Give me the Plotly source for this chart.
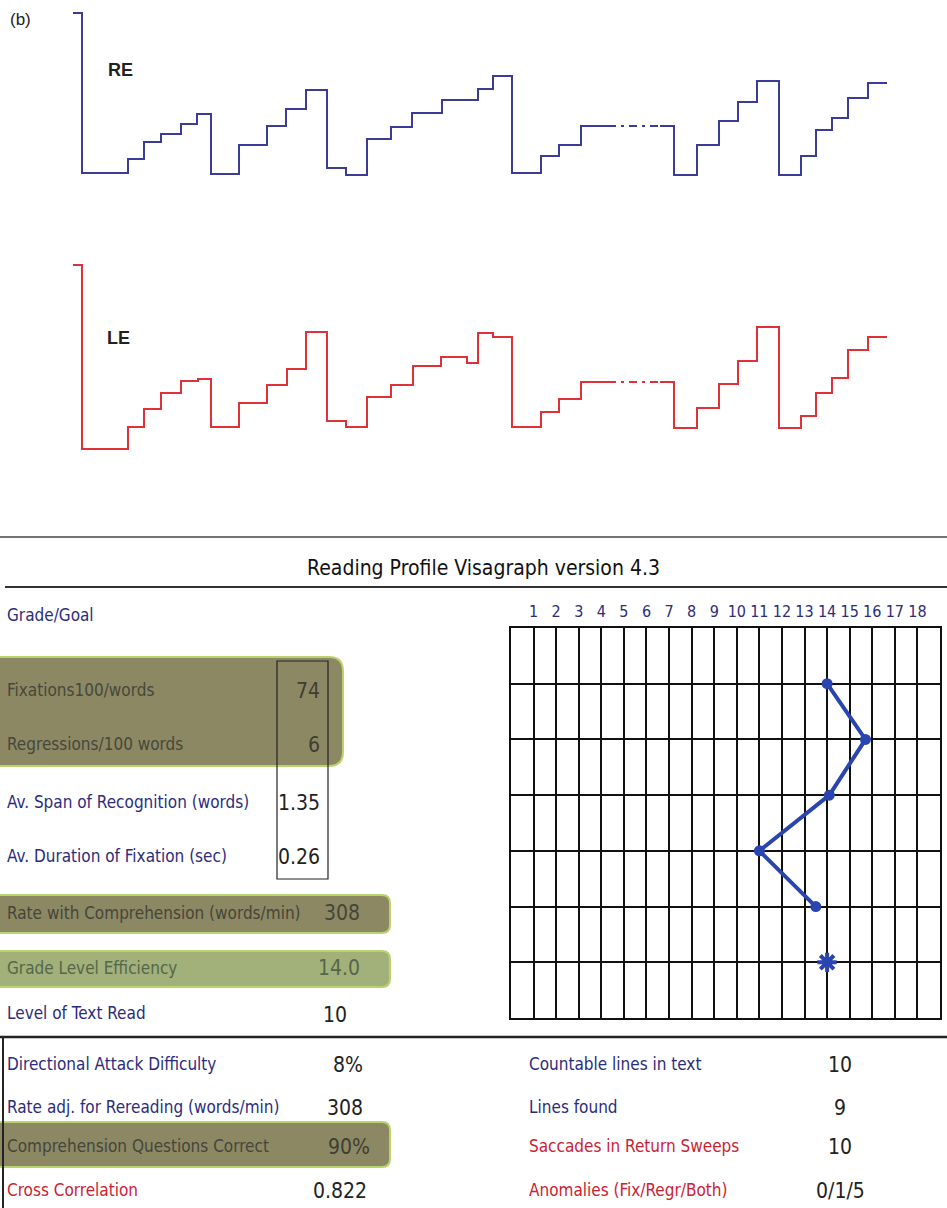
import plotly.graph_objects as go

W, H = 947, 1208

# ---------------- data: eye-movement traces (time units, horizontal position units) --------
RE_t   = [0, 9, 55, 71, 88, 108, 124, 138, 166, 194, 213, 233, 254, 273, 294, 318, 339, 369,
          405, 420, 439, 468, 486, 508, 601, 624, 646, 665, 684, 706, 728, 743, 759, 775, 795]
RE_pos = [162, 2, 16, 33, 41, 51, 61, 1, 30, 49, 66, 85, 7, 0, 36, 48, 62, 75,
          86, 99, 2, 19, 30, 49, 0, 30, 54, 73, 94, 0, 19, 45, 57, 77, 92]
LE_t   = [0, 9, 55, 71, 88, 108, 125, 138, 166, 194, 214, 233, 254, 273, 294, 318, 340, 368,
          394, 405, 420, 439, 468, 486, 508, 601, 624, 646, 665, 684, 706, 728, 743, 759, 775, 795]
LE_pos = [184, 0, 22, 40, 56, 68, 70, 22, 46, 64, 80, 117, 28, 22, 52, 64, 83, 92,
          86, 116, 112, 22, 37, 50, 67, 21, 41, 65, 88, 122, 21, 33, 56, 71, 99, 112]
T_END = 814
GAP_START, GAP_END = 535, 587   # lost-tracking (dashed) interval

# ---------------- data: reading grid -----------------
grid_cols = list(range(1, 19))
grid_col_labels = [str(c) for c in grid_cols]
line_no = [1, 2, 3, 4, 5]
fix_col = [14, 15.7, 14.1, 11, 13.5]
missing_line = [6]
missing_col = [14]

# ---------------- data: table -----------------
TITLE = "Reading Profile Visagraph version 4.3"
top_labels = ["Fixations100/words", "Regressions/100 words",
              "Av. Span of Recognition (words)", "Av. Duration of Fixation (sec)"]
top_values = ["74", "6", "1.35", "0.26"]
mid_labels = ["Rate with Comprehension (words/min)", "Grade Level Efficiency"]
mid_values = ["308", "14.0"]
level_label, level_value = "Level of Text Read", "10"
left_labels = ["Directional Attack Difficulty", "Rate adj. for Rereading (words/min)",
               "Comprehension Questions Correct", "Cross Correlation"]
left_values = ["8%", "308", "90%", "0.822"]
right_labels = ["Countable lines in text", "Lines found",
                "Saccades in Return Sweeps", "Anomalies (Fix/Regr/Both)"]
right_values = ["10", "9", "10", "0/1/5"]

# ---------------- helpers -----------------
def px(x):
    return x / W

def py(y):
    return 1 - y / H

def split_gap(ts, ys, t_end, g0, g1):
    xs, yv = [], []
    for i, (t, y) in enumerate(zip(ts, ys)):
        nxt = ts[i + 1] if i + 1 < len(ts) else t_end
        xs.append(t); yv.append(y)
        if t < g0 < nxt:
            xs += [g0, None, g1]; yv += [y, None, y]
    xs.append(t_end); yv.append(ys[-1])
    return xs, yv

def gap_level(ts, ys, g0):
    lvl = ys[0]
    for t, y in zip(ts, ys):
        if t <= g0:
            lvl = y
    return lvl

NAVY_LINE = "#3b3b98"
RED_LINE = "#e03038"
NARROW = "DejaVu Sans Condensed, Liberation Sans Narrow, Arial Narrow, sans-serif"
ARIAL = "Liberation Sans, Arial, sans-serif"
LBL_BLUE = "#2c2c7c"
LBL_RED = "#cc2233"
OLIVE = "#8c8864"
OLIVE_EDGE = "#b9d46e"
GREEN_BOX = "#a2b07a"
MARK = "#2a44b0"

LBL = 17     # label font size
VAL = 21     # value font size

fig = go.Figure()

for name, ts, ys, col, ya in [("RE", RE_t, RE_pos, NAVY_LINE, "y"), ("LE", LE_t, LE_pos, RED_LINE, "y2")]:
    xs, yv = split_gap(ts, ys, T_END, GAP_START, GAP_END)
    fig.add_trace(go.Scatter(x=xs, y=yv, mode="lines", line=dict(shape="hv", color=col, width=2),
                             connectgaps=False, xaxis="x", yaxis=ya, hoverinfo="skip", showlegend=False))
    lv = gap_level(ts, ys, GAP_START)
    fig.add_trace(go.Scatter(x=[GAP_START, GAP_END], y=[lv, lv], mode="lines",
                             line=dict(color=col, width=2, dash="8px,5px,3px,5px"),
                             xaxis="x", yaxis=ya, hoverinfo="skip", showlegend=False))

# reading grid trace
fig.add_trace(go.Scatter(x=fix_col, y=line_no, mode="lines+markers",
                         line=dict(color=MARK, width=4),
                         marker=dict(color=MARK, size=11),
                         xaxis="x3", yaxis="y3", cliponaxis=False, showlegend=False))
fig.add_trace(go.Scatter(x=missing_col, y=missing_line, mode="markers",
                         marker=dict(symbol="asterisk-open", size=16, color=MARK,
                                     line=dict(color=MARK, width=4)),
                         xaxis="x3", yaxis="y3", cliponaxis=False, showlegend=False))

shapes = []
def line(x0, y0, x1, y1, w=1.5, c="#333333"):
    shapes.append(dict(type="line", xref="paper", yref="paper", x0=px(x0), y0=py(y0), x1=px(x1), y1=py(y1),
                       line=dict(color=c, width=w)))

def rrect(x0, y0, x1, y1, r, fill, edge, ew=2):
    p = (f"M {px(x0)},{py(y0)} L {px(x1 - r)},{py(y0)} Q {px(x1)},{py(y0)} {px(x1)},{py(y0 + r)} "
         f"L {px(x1)},{py(y1 - r)} Q {px(x1)},{py(y1)} {px(x1 - r)},{py(y1)} L {px(x0)},{py(y1)} Z")
    shapes.append(dict(type="path", xref="paper", yref="paper", path=p, fillcolor=fill,
                       line=dict(color=edge, width=ew), layer="below"))

def rect(x0, y0, x1, y1, c="#222222", w=1.2):
    shapes.append(dict(type="rect", xref="paper", yref="paper", x0=px(x0), y0=py(y0), x1=px(x1), y1=py(y1),
                       line=dict(color=c, width=w), fillcolor="rgba(0,0,0,0)"))

line(0, 537, W, 537, 1.5, "#444444")
line(5, 587, W, 587, 2, "#333333")
line(0, 1037, W, 1037, 2.5, "#222222")
line(3, 1037, 3, H, 2, "#222222")

rrect(-20, 657, 343, 766, 14, OLIVE, OLIVE_EDGE)
rrect(-20, 895, 390, 933, 8, OLIVE, OLIVE_EDGE)
rrect(-20, 951, 390, 987, 8, GREEN_BOX, OLIVE_EDGE)
rrect(-20, 1122, 390, 1167, 8, OLIVE, OLIVE_EDGE)
rect(277, 661, 328, 879)

ann = []
def text(x, y, s, size=LBL, color=LBL_BLUE, anchor="left", fam=NARROW):
    ann.append(dict(x=px(x), y=py(y), xref="paper", yref="paper", text=s, showarrow=False,
                    xanchor=anchor, yanchor="middle", font=dict(family=fam, size=size, color=color)))

text(8, 20, "(b)", 17, "#222222", fam=ARIAL)
text(106, 70, "<b>RE</b>", 18, "#222222", fam=ARIAL)
text(105, 338, "<b>LE</b>", 18, "#222222", fam=ARIAL)

text(483, 568, TITLE, 21, "#111111", "center")
text(5, 615, "Grade/Goal", LBL)

top_y = [690, 744, 802, 856]
top_col = ["#47473a", "#47473a", LBL_BLUE, LBL_BLUE]
for s, v, y, c in zip(top_labels, top_values, top_y, top_col):
    text(5, y, s, LBL, c)
    text(322, y + 1, v, VAL, "#222222" if c == LBL_BLUE else "#3e3e32", "right")

mid_y = [913, 968]
mid_col = ["#45453a", "#56664a"]
for s, v, y, c in zip(mid_labels, mid_values, mid_y, mid_col):
    text(5, y, s, LBL, c)
    text(362, y, v, VAL, c, "right")

text(5, 1013, level_label, LBL)
text(335, 1015, level_value, VAL, "#222222", "center")

bot_y = [1064, 1107, 1146, 1190]
left_col = [LBL_BLUE, LBL_BLUE, "#45453a", LBL_RED]
left_val_x = [348, 345, 349, 340]
for s, v, y, c, vx in zip(left_labels, left_values, bot_y, left_col, left_val_x):
    text(5, y, s, LBL, c)
    text(vx, y + 1, v, VAL, "#3e3e32" if c == "#45453a" else "#222222", "center")

right_col = [LBL_BLUE, LBL_BLUE, LBL_RED, LBL_RED]
for s, v, y, c in zip(right_labels, right_values, bot_y, right_col):
    text(527, y, s, LBL, c)
    text(840, y + 1, v, VAL, "#222222", "center")

GRID = "#111111"
fig.update_layout(
    width=W, height=H, margin=dict(l=0, r=0, t=0, b=0),
    paper_bgcolor="white", plot_bgcolor="white", showlegend=False,
    shapes=shapes, annotations=ann,
    xaxis=dict(domain=[0, 1], range=[-73, W - 73], visible=False, fixedrange=True),
    yaxis=dict(domain=[py(180), py(5)], range=[-5, 170], visible=False, fixedrange=True),
    yaxis2=dict(domain=[py(455), py(255)], range=[-6, 194], visible=False, anchor="x", fixedrange=True),
    xaxis3=dict(domain=[px(511), px(940)], range=[0, 19], anchor="y3", side="top",
                tickvals=grid_cols, ticktext=grid_col_labels, ticks="",
                tickfont=dict(family=NARROW, size=16, color=LBL_BLUE),
                showgrid=True, gridcolor=GRID, gridwidth=2, zeroline=False,
                showline=True, linecolor=GRID, linewidth=2, mirror=True, ticklabelstandoff=3),
    yaxis3=dict(domain=[py(1018), py(628)], range=[7, 0], anchor="x3",
                tickvals=[1, 2, 3, 4, 5, 6], showticklabels=False, ticks="",
                showgrid=True, gridcolor=GRID, gridwidth=2, zeroline=False,
                showline=True, linecolor=GRID, linewidth=2, mirror=True),
)

fig.write_html("out.html", config={"displayModeBar": False},
               post_script="document.body.style.margin='0';document.body.style.overflow='hidden';")
